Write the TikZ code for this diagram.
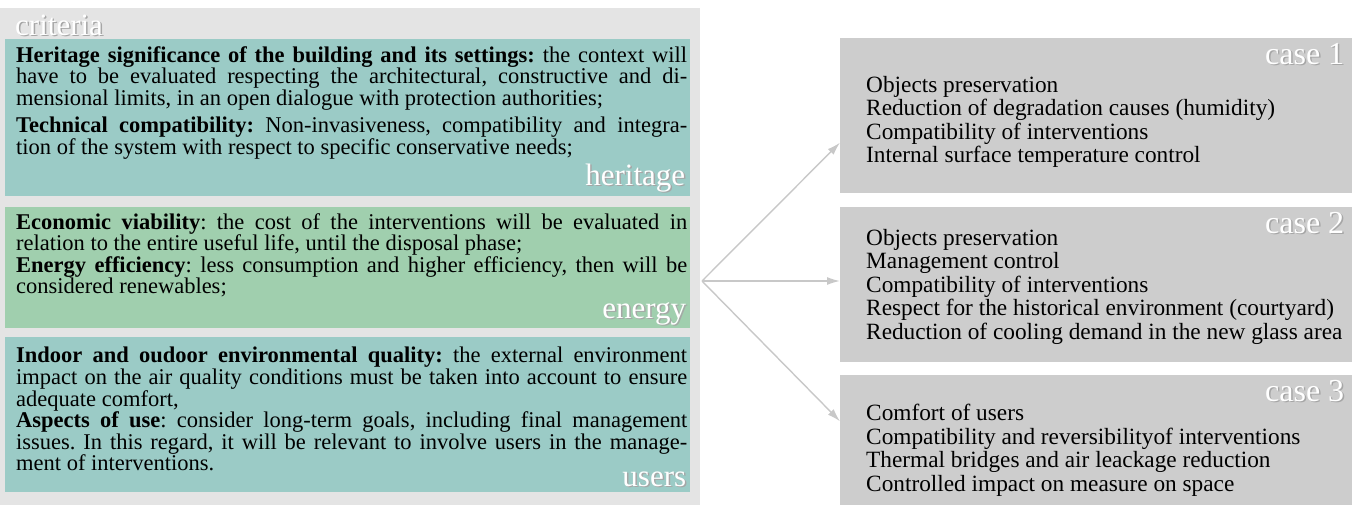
\documentclass[tikz,border=0pt]{standalone}
\usepackage{fontspec}
\setmainfont{Liberation Serif}
\usetikzlibrary{positioning,arrows.meta}
\setlength{\parindent}{0pt}
\frenchspacing
\definecolor{panelgray}{HTML}{E4E4E4}
\definecolor{heritteal}{HTML}{9BCBC6}
\definecolor{energygreen}{HTML}{A0CFAE}
\definecolor{casegray}{HTML}{CDCDCD}
\definecolor{arrowgray}{HTML}{C8C8C8}
\newcommand{\shadowed}[1]{\makebox[0pt][l]{\kern1.5pt\raisebox{-1.5pt}{\textcolor{black!35}{#1}}}\textcolor{white}{#1}}

\begin{document}
\begin{tikzpicture}[
  x=1pt, y=-1pt,
  >={Latex[length=13pt,width=8pt]},
  critbox/.style={anchor=north west, minimum width=685pt, inner sep=0pt},
  crittext/.style={anchor=north west, text width=671pt, align=justify, inner sep=0pt, font=\fontsize{22.5}{21.6}\selectfont},
  critlabel/.style={anchor=base east, inner sep=0pt, font=\fontsize{31}{31}\selectfont},
  casebox/.style={anchor=north west, fill=casegray, minimum width=512pt, inner sep=0pt},
  caselist/.style={anchor=west, align=left, inner sep=0pt, font=\fontsize{23.3}{23.4}\selectfont},
  casetitle/.style={anchor=base east, inner sep=0pt, font=\fontsize{32}{32}\selectfont},
  casearrow/.style={->, draw=arrowgray, line width=1.4pt}
]
  \useasboundingbox (0,0) rectangle (1359,504);
  \clip (0,0) rectangle (1359,504);

  % criteria column
  \node[anchor=north west, fill=panelgray, minimum width=700pt, minimum height=510pt, inner sep=0pt] (critpanel) at (0,8) {};
  \node[critlabel, anchor=base west] (crittitle) at (15,35) {\shadowed{criteria}};

  \node[critbox, fill=heritteal, minimum height=157pt] (heritage) at (5,39) {};
  \node[crittext] (heritagetext) at ([shift={(11,7)}]heritage.north west) {\textbf{Heritage significance of the building and its settings:} the context will\linebreak have to be evaluated respecting the architectural, constructive and di-\linebreak mensional limits, in an open dialogue with protection authorities;\par\vspace{6pt}
  \textbf{Technical compatibility:} Non-invasiveness, compatibility and integra-\linebreak tion of the system with respect to specific conservative needs;};
  \node[critlabel] (heritagelabel) at ([shift={(-5,-11)}]heritage.south east) {\shadowed{heritage}};

  \node[critbox, fill=energygreen, minimum height=121pt] (energy) at (5,207) {};
  \node[crittext] (energytext) at ([shift={(11,6)}]energy.north west) {\textbf{Economic viability}: the cost of the interventions will be evaluated in\linebreak relation to the entire useful life, until the disposal phase;\\
  \textbf{Energy efficiency}: less consumption and higher efficiency, then will be\linebreak considered renewables;};
  \node[critlabel] (energylabel) at ([shift={(-4,-10)}]energy.south east) {\shadowed{energy}};

  \node[critbox, fill=heritteal, minimum height=155pt] (users) at (5,337) {};
  \node[crittext] (userstext) at ([shift={(11,10)}]users.north west) {\textbf{Indoor and oudoor environmental quality:} the external environment\linebreak impact on the air quality conditions must be taken into account to ensure\linebreak adequate comfort,\\
  \textbf{Aspects of use}: consider long-term goals, including final management\linebreak issues. In this regard, it will be relevant to involve users in the manage-\linebreak ment of interventions.};
  \node[critlabel] (userslabel) at ([shift={(-4,-6)}]users.south east) {\shadowed{users}};

  % cases
  \node[casebox, minimum height=155pt] (case1) at (840,38) {};
  \node[casetitle] (case1title) at ([shift={(-8,26)}]case1.north east) {\shadowed{case 1}};
  \node[caselist] (case1list) at ([shift={(26,6)}]case1.west) {Objects preservation\\
    Reduction of degradation causes (humidity)\\
    Compatibility of interventions\\
    Internal surface temperature control};

  \node[casebox, minimum height=155pt] (case2) at (840,207) {};
  \node[casetitle] (case2title) at ([shift={(-8,26)}]case2.north east) {\shadowed{case 2}};
  \node[caselist] (case2list) at ([shift={(26,2)}]case2.west) {Objects preservation\\
    Management control\\
    Compatibility of interventions\\
    Respect for the historical environment (courtyard)\\
    Reduction of cooling demand in the new glass area};

  \node[casebox, minimum height=146pt] (case3) at (840,375) {};
  \node[casetitle] (case3title) at ([shift={(-8,26)}]case3.north east) {\shadowed{case 3}};
  \node[caselist] (case3list) at ([shift={(26,2)}]case3.west) {Comfort of users\\
    Compatibility and reversibilityof interventions\\
    Thermal bridges and air leackage reduction\\
    Controlled impact on measure on space};

  % arrows
  \coordinate (fork) at (702,281);
  \draw[casearrow] (fork) -- (case1.186);
  \draw[casearrow] (fork) -- (fork -| case2.west);
  \draw[casearrow] (fork) -- (case3.174);
\end{tikzpicture}
\end{document}
